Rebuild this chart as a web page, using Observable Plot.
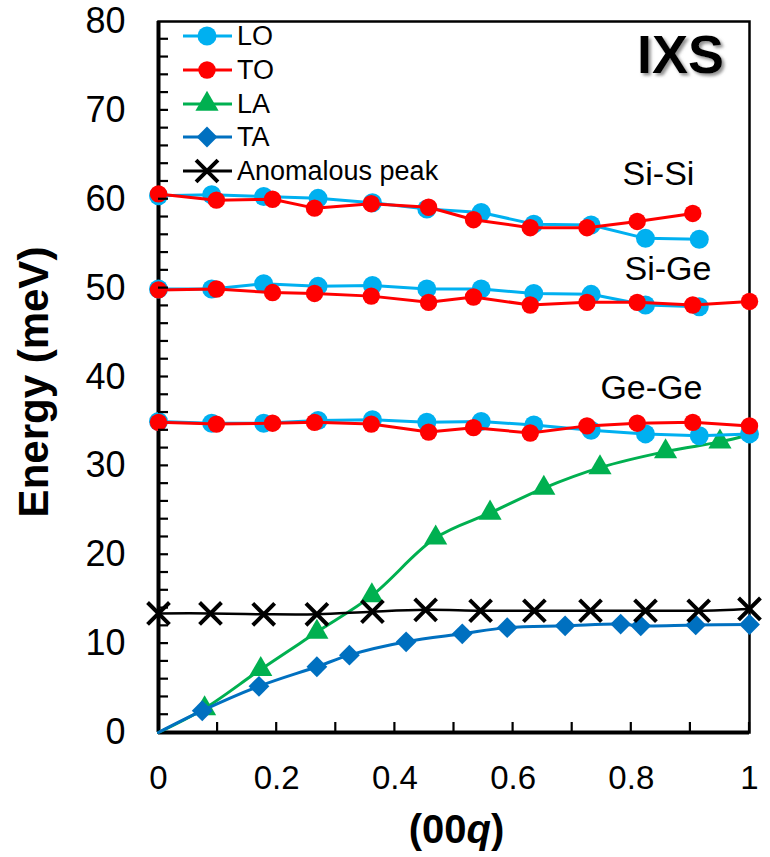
<!DOCTYPE html>
<html><head><meta charset="utf-8">
<script src="https://cdn.jsdelivr.net/npm/d3@7"></script>
<script src="https://cdn.jsdelivr.net/npm/@observablehq/plot@0.6"></script>
<style>
html,body{margin:0;padding:0;background:#fff;}
#chart{width:770px;height:857px;}
</style></head><body><div id="chart"></div>
<script>
// ---- data ----
const qLO = [0, 0.09, 0.178, 0.27, 0.362, 0.454, 0.546, 0.635, 0.732, 0.824, 0.915, 1.0];
const loSiSi = [60.4, 60.5, 60.3, 60.1, 59.6, 58.9, 58.5, 57.2, 57.1, 55.6, 55.5];
const loSiGe = [49.9, 49.9, 50.5, 50.2, 50.3, 49.9, 49.9, 49.4, 49.3, 48.1, 47.9];
const loGeGe = [35.0, 34.8, 34.8, 35.1, 35.2, 34.9, 35.0, 34.6, 34.0, 33.6, 33.4, 33.6];

const qTO = [0, 0.098, 0.193, 0.264, 0.36, 0.457, 0.533, 0.629, 0.725, 0.81, 0.904, 1.0];
const toSiSi = [60.6, 59.9, 60.0, 59.0, 59.5, 59.1, 57.7, 56.8, 56.8, 57.5, 58.4];
const toSiGe = [49.8, 49.9, 49.5, 49.4, 49.1, 48.4, 49.0, 48.1, 48.4, 48.4, 48.1, 48.5];
const toGeGe = [34.9, 34.7, 34.8, 34.9, 34.7, 33.8, 34.3, 33.7, 34.5, 34.8, 34.9, 34.5];

// LA / TA curves start at the origin (no marker there); LA ends under the LO point at q=1
const qLA = [0, 0.078, 0.173, 0.268, 0.361, 0.469, 0.561, 0.652, 0.747, 0.858, 0.95, 1.0];
const eLA = [0, 2.7, 7.1, 11.3, 15.4, 21.9, 24.7, 27.5, 29.8, 31.6, 32.7, 33.5];
const qTA = [0, 0.074, 0.170, 0.268, 0.323, 0.419, 0.514, 0.590, 0.688, 0.782, 0.816, 0.909, 1.0];
const eTA = [0, 2.45, 5.2, 7.4, 8.7, 10.2, 11.1, 11.8, 12.0, 12.2, 12.0, 12.1, 12.15];

const qAN = [0, 0.088, 0.178, 0.268, 0.362, 0.452, 0.545, 0.636, 0.731, 0.824, 0.914, 1.0];
const eAN = [13.4, 13.4, 13.3, 13.3, 13.6, 13.8, 13.7, 13.7, 13.7, 13.7, 13.7, 13.9];

const xMajor = [0, 0.2, 0.4, 0.6, 0.8, 1];
const xMinor = [0.1, 0.2, 0.3, 0.4, 0.5, 0.6, 0.7, 0.8, 0.9, 1.0];
const yMajor = [0, 10, 20, 30, 40, 50, 60, 70, 80];
const yMinor = d3.range(2, 80, 2);

const seriesNames = ["LO", "TO", "LA", "TA", "Anomalous peak"];
const seriesColors = ["#00B0F0", "#FF0000", "#00B050", "#0070C0", "#000000"];
const branchLabels = ["Si-Si", "Si-Ge", "Ge-Ge"];
const branchLabelQ = [0.846, 0.862, 0.834];
const branchLabelE = [62.8, 52.1, 38.8];

// ---- layout ----
const W = 770, H = 857, mL = 158, mR = 21, mT = 21, mB = 125;
const plotW = W - mL - mR, plotH = H - mT - mB;
const FONT = "'Liberation Sans', Arial, Helvetica, sans-serif";
const [cLO, cTO, cLA, cTA, cAN] = seriesColors;
const TICK = 10;

function rows(q, e, branch) { return e.map((v, i) => ({q: q[i], e: v, branch, i})); }
const loRows = [...rows(qLO, loSiSi, "Si-Si"), ...rows(qLO, loSiGe, "Si-Ge"), ...rows(qLO, loGeGe, "Ge-Ge")];
const toRows = [...rows(qTO, toSiSi, "Si-Si"), ...rows(qTO, toSiGe, "Si-Ge"), ...rows(qTO, toGeGe, "Ge-Ge")];
const laRows = rows(qLA, eLA, "LA");
const taRows = rows(qTA, eTA, "TA");
const anRows = rows(qAN, eAN, "AN");
const labelRows = branchLabels.map((t, i) => ({t, q: branchLabelQ[i], e: branchLabelE[i]}));

const diamond = {draw(ctx, size) { const h = Math.sqrt(size / 2); ctx.moveTo(0, -h); ctx.lineTo(h, 0); ctx.lineTo(0, h); ctx.lineTo(-h, 0); ctx.closePath(); }};

const rLO = 9.5, rTO = 8.7, rLA = 8.6, rTA = 8.3, rAN = 10;

const fig = Plot.plot({
  width: W, height: H,
  marginLeft: mL, marginRight: mR, marginTop: mT, marginBottom: mB,
  style: {fontFamily: FONT, fontSize: "34px", color: "#000", background: "#fff"},
  x: {domain: [0, 1]},
  y: {domain: [0, 80]},
  marks: [
    Plot.frame({stroke: "#000", strokeWidth: 2.5}),
    Plot.ruleX([0], {stroke: "#000", strokeWidth: 4}),
    Plot.ruleY([0], {stroke: "#000", strokeWidth: 4}),
    Plot.axisY({ticks: yMajor, tickSize: 0, tickPadding: 33, fontSize: 36, label: null}),
    Plot.axisX({ticks: xMajor, tickSize: 0, tickPadding: 33, fontSize: 33, label: null, tickFormat: d => String(d)}),
    // LA and TA (smoothed)
    Plot.line(laRows, {x: "q", y: "e", stroke: cLA, strokeWidth: 3, curve: "catmull-rom"}),
    Plot.dot(laRows.filter(d => d.i > 0 && d.i < qLA.length - 1), {x: "q", y: "e", symbol: "triangle", r: rLA, fill: cLA}),
    Plot.line(taRows, {x: "q", y: "e", stroke: cTA, strokeWidth: 3, curve: "catmull-rom"}),
    Plot.dot(taRows.filter(d => d.i > 0), {x: "q", y: "e", symbol: diamond, r: rTA, fill: cTA}),
    // LO and TO
    Plot.line(loRows, {x: "q", y: "e", z: "branch", stroke: cLO, strokeWidth: 3}),
    Plot.dot(loRows, {x: "q", y: "e", r: rLO, fill: cLO}),
    Plot.line(toRows, {x: "q", y: "e", z: "branch", stroke: cTO, strokeWidth: 3}),
    Plot.dot(toRows, {x: "q", y: "e", r: rTO, fill: cTO}),
    // anomalous peak
    Plot.line(anRows, {x: "q", y: "e", stroke: cAN, strokeWidth: 2.5, curve: "catmull-rom"}),
    Plot.dot(anRows, {x: "q", y: "e", symbol: "times", r: rAN, stroke: cAN, strokeWidth: 4}),
    // annotations
    Plot.text(labelRows, {x: "q", y: "e", text: "t", fontSize: 34, fill: "#000"}),
    Plot.text(["IXS"], {frameAnchor: "top-right", textAnchor: "middle", lineAnchor: "middle", dx: -69, dy: 34, fontSize: 54, fontWeight: "bold", fill: "#000"}),
    Plot.text(["Energy (meV)"], {frameAnchor: "left", textAnchor: "middle", lineAnchor: "middle", dx: -124, dy: 5, rotate: -90, fontSize: 42, fontWeight: "bold", fill: "#000"})
  ]
});

const svg = d3.select(fig);
const sx = fig.scale("x"), sy = fig.scale("y");
// inner minor ticks, placed with the plot's own scales
const tg = svg.append("g").attr("stroke", "#000").attr("stroke-width", 2.2);
tg.selectAll("line.ty").data(yMinor).join("line").attr("class", "ty")
  .attr("x1", sx.apply(0)).attr("x2", sx.apply(0) + TICK)
  .attr("y1", d => sy.apply(d)).attr("y2", d => sy.apply(d));
tg.selectAll("line.tx").data(xMinor).join("line").attr("class", "tx")
  .attr("x1", d => sx.apply(d)).attr("x2", d => sx.apply(d))
  .attr("y1", sy.apply(0)).attr("y2", sy.apply(0) - TICK);

// shadow for IXS
const defs = svg.append("defs");
defs.append("filter").attr("id", "ixsShadow").attr("x", "-20%").attr("y", "-20%").attr("width", "150%").attr("height", "150%")
  .append("feDropShadow").attr("dx", 2.5).attr("dy", 2.5).attr("stdDeviation", 1.5).attr("flood-color", "#777").attr("flood-opacity", 0.8);
svg.selectAll("text").filter(function () { return this.textContent === "IXS"; }).attr("filter", "url(#ixsShadow)");

// x axis title (00q) with italic q
const xt = svg.append("text").attr("x", mL + plotW / 2 + 3).attr("y", 843)
  .attr("text-anchor", "middle").attr("font-family", FONT).attr("font-size", 40).attr("font-weight", "bold").attr("fill", "#000");
xt.append("tspan").text("(00");
xt.append("tspan").attr("font-style", "italic").text("q");
xt.append("tspan").text(")");

// legend
const symbolTypes = [d3.symbolCircle, d3.symbolCircle, d3.symbolTriangle, diamond, d3.symbolTimes];
const symbolR = [rLO, rTO, rLA, rTA, rAN];
const lg = svg.append("g").attr("font-family", FONT).attr("font-size", 27).attr("text-anchor", "start");
const rowY = [36, 70, 104, 137, 171];
seriesNames.forEach((name, i) => {
  const y = rowY[i];
  lg.append("line").attr("x1", 183).attr("x2", 232).attr("y1", y).attr("y2", y)
    .attr("stroke", seriesColors[i]).attr("stroke-width", 3);
  const p = d3.symbol(symbolTypes[i], Math.PI * symbolR[i] * symbolR[i])();
  const s = lg.append("path").attr("d", p).attr("transform", `translate(207,${y})`);
  if (i === 4) s.attr("fill", "none").attr("stroke", "#000").attr("stroke-width", 4);
  else s.attr("fill", seriesColors[i]);
  lg.append("text").attr("x", 237).attr("y", y).attr("dy", "0.35em").attr("text-anchor", "start").attr("fill", "#000").text(name);
});

document.getElementById("chart").appendChild(fig);
</script>
</body></html>
